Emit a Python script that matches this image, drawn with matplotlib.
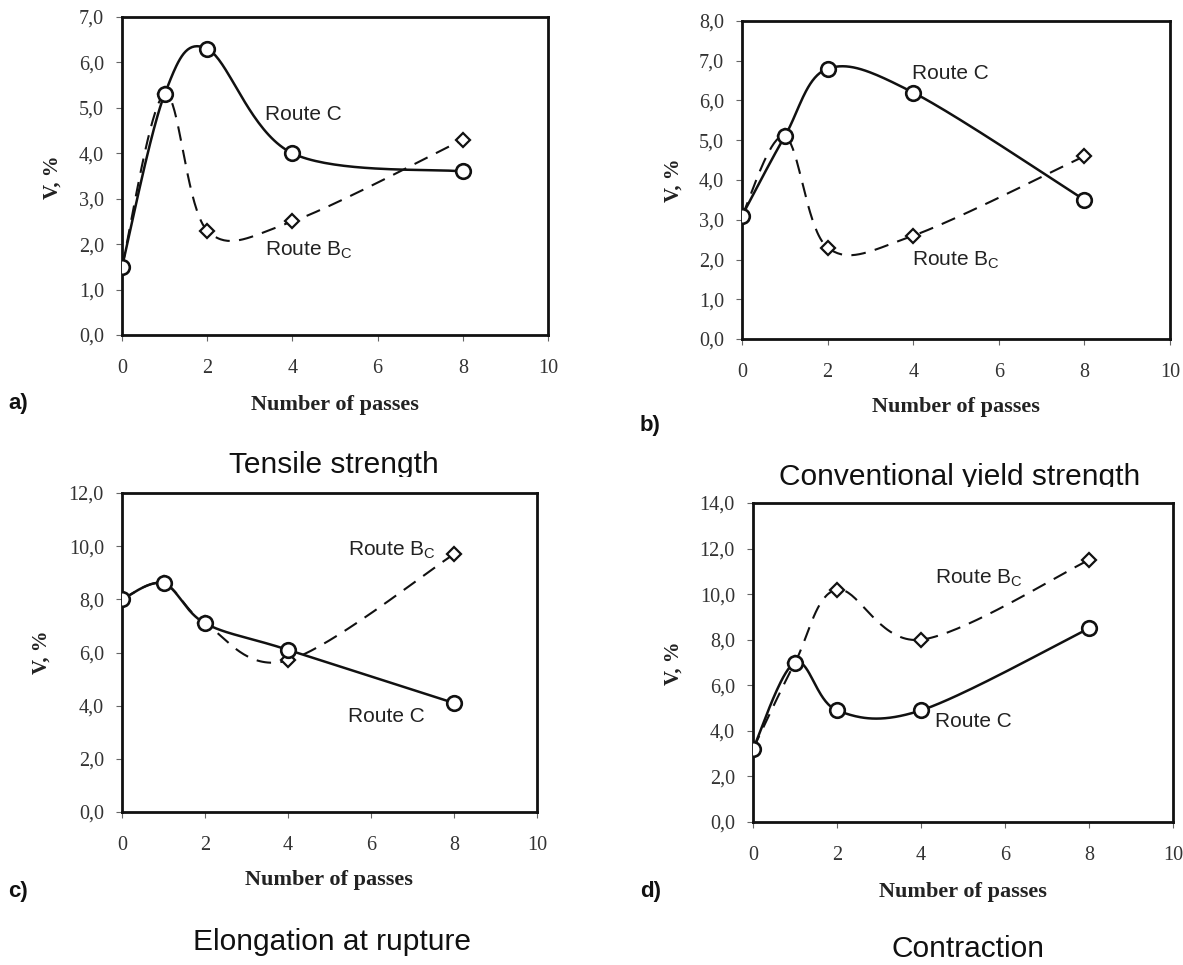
import numpy as np
import matplotlib.pyplot as plt
from matplotlib.transforms import Bbox, TransformedBbox

W, H = 1183, 965

# data
passes = [0, 1, 2, 4, 8]

tensile_c = [1.5, 5.3, 6.3, 4.0, 3.6]
tensile_bc = [1.5, 5.3, 2.3, 2.5, 4.3]
yield_c = [3.1, 5.1, 6.8, 6.2, 3.5]
yield_bc = [3.1, 5.1, 2.3, 2.6, 4.6]
elong_c = [8.0, 8.6, 7.1, 6.1, 4.1]
elong_bc = [8.0, 8.6, 7.1, 5.7, 9.7]
contr_c = [3.2, 7.0, 4.9, 4.9, 8.5]
contr_bc = [3.2, 7.0, 10.2, 8.0, 11.5]

x_ticks = [0, 2, 4, 6, 8, 10]
y_ticks_a = [0, 1, 2, 3, 4, 5, 6, 7]
y_ticks_b = [0, 1, 2, 3, 4, 5, 6, 7, 8]
y_ticks_c = [0, 2, 4, 6, 8, 10, 12]
y_ticks_d = [0, 2, 4, 6, 8, 10, 12, 14]

titles = ['Tensile strength', 'Conventional yield strength',
          'Elongation at rupture', 'Contraction']
letters = ['a)', 'b)', 'c)', 'd)']


def px_rect(l, t, r, b):
    return [l / W, 1 - b / H, (r - l) / W, (b - t) / H]


def fx(x):
    return x / W


def fy(y):
    return 1 - y / H


def smooth(xs, ys, n=40):
    # excel-style smoothed line (bezier through the points)
    p = np.column_stack([xs, ys]).astype(float)
    ext = np.vstack([p[0], p, p[-1]])
    out = []
    t = np.linspace(0, 1, n)[:, None]
    for i in range(len(p) - 1):
        p0, p1, p2, p3 = ext[i], ext[i + 1], ext[i + 2], ext[i + 3]
        c1 = p1 + (p2 - p0) / 6
        c2 = p2 - (p3 - p1) / 6
        seg = (1 - t) ** 3 * p1 + 3 * (1 - t) ** 2 * t * c1 + 3 * (1 - t) * t ** 2 * c2 + t ** 3 * p2
        out.append(seg if i == 0 else seg[1:])
    return np.vstack(out)


fig = plt.figure(figsize=(W / 100, H / 100), dpi=100)

serif = 'Liberation Serif'
sans = 'Liberation Sans'

panels = [
    # axes box in px, series, y ticks, label positions (data / px), title clip line
    dict(rect=(122, 17, 548, 335), c=tensile_c, bc=tensile_bc, yt=y_ticks_a,
         lc=(3.35, 4.85), lbc=(3.35, 1.87), yl=(53, 177), let=(8, 403),
         xl=(335, 405), tt=(334, 473), clip=477),
    dict(rect=(742, 21, 1170, 339), c=yield_c, bc=yield_bc, yt=y_ticks_b,
         lc=(3.97, 6.69), lbc=(3.97, 1.99), yl=(674, 180), let=(640, 425),
         xl=(956, 407), tt=(960, 485), clip=487),
    dict(rect=(122, 493, 537, 812), c=elong_c, bc=elong_bc, yt=y_ticks_c,
         lc=(5.45, 3.61), lbc=(5.45, 9.86), yl=(42, 652), let=(8, 892),
         xl=(329, 880), tt=(332, 950), clip=None),
    dict(rect=(753, 503, 1173, 822), c=contr_c, bc=contr_bc, yt=y_ticks_d,
         lc=(4.33, 4.39), lbc=(4.33, 10.7), yl=(674, 663), let=(640, 892),
         xl=(963, 892), tt=(968, 957), clip=None),
]

for i, p in enumerate(panels):
    ax = fig.add_axes(px_rect(*p['rect']))
    sc = smooth(passes, p['c'])
    sb = smooth(passes, p['bc'])
    ax.plot(sb[:, 0], sb[:, 1], color='#111111', lw=1.5, ls=(0, (7, 4.5)), zorder=2)
    ax.plot(sc[:, 0], sc[:, 1], color='#111111', lw=1.8, zorder=3)
    ax.plot(passes, p['bc'], ls='none', marker='D', ms=7.2, mfc='white',
            mec='#111111', mew=1.6, zorder=4)
    ax.plot(passes, p['c'], ls='none', marker='o', ms=10.5, mfc='white',
            mec='#111111', mew=1.9, zorder=5)

    ax.set_xlim(0, 10)
    ax.set_ylim(p['yt'][0], p['yt'][-1])
    ax.set_xticks(x_ticks)
    ax.set_xticklabels([str(v) for v in x_ticks])
    ax.set_yticks(p['yt'])
    ax.set_yticklabels([f'{v:.1f}'.replace('.', ',') for v in p['yt']])
    for lab in ax.get_xticklabels() + ax.get_yticklabels():
        lab.set_fontfamily(serif)
        lab.set_fontsize(14.5)
        lab.set_color('#333333')
    ax.tick_params(axis='x', direction='out', length=4, width=0.8, color='#666666', pad=13)
    ax.tick_params(axis='y', direction='out', length=4, width=0.8, color='#666666', pad=9)
    for s in ax.spines.values():
        s.set_linewidth(2.0)
        s.set_color('#111111')

    ax.text(p['lc'][0], p['lc'][1], 'Route C', fontsize=15, family=sans,
            color='#222222', va='center', ha='left')
    ax.text(p['lbc'][0], p['lbc'][1], r'Route B$_{\mathregular{C}}$', fontsize=15,
            family=sans, color='#222222', va='center', ha='left')

    fig.text(fx(p['yl'][0]), fy(p['yl'][1]), 'V, %', rotation=90, family=serif,
             fontweight='bold', fontsize=15, color='#222222', ha='center', va='center')
    fig.text(fx(p['let'][0]), fy(p['let'][1]), letters[i], family=sans,
             fontweight='bold', fontsize=16, color='#111111', ha='left', va='center')
    fig.text(fx(p['xl'][0]), fy(p['xl'][1]), 'Number of passes', family=serif,
             fontweight='bold', fontsize=16, color='#222222', ha='center', va='center')
    tt = fig.text(fx(p['tt'][0]), fy(p['tt'][1]), titles[i], family=sans,
                  fontsize=21.5, color='#111111', ha='center', va='baseline')
    if p['clip'] is not None:
        box = Bbox.from_extents(0, fy(p['clip']), 1, 1)
        tt.set_clip_box(TransformedBbox(box, fig.transFigure))
        tt.set_clip_on(True)

fig.savefig('out.png', dpi=100, facecolor='white')
